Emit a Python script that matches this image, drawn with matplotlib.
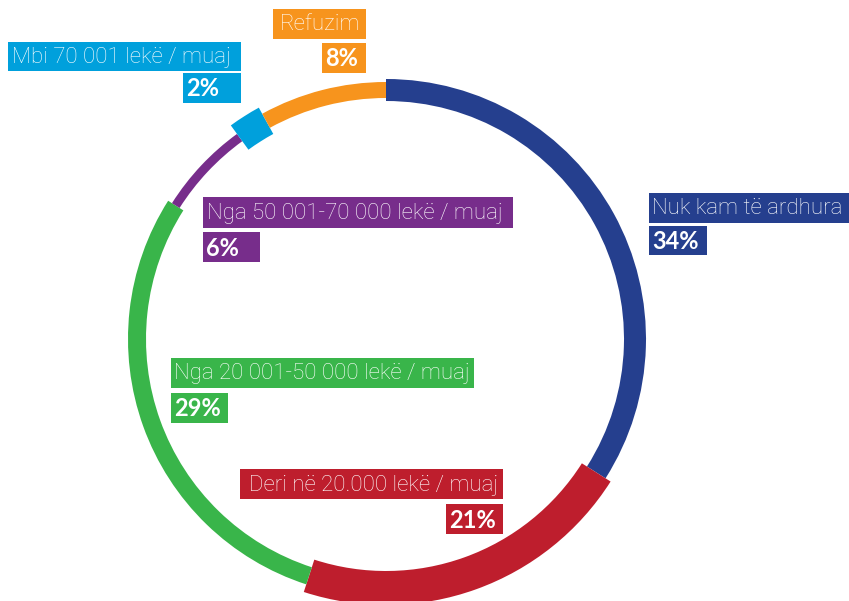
import matplotlib.pyplot as plt
from matplotlib.patches import Rectangle

# income categories, clockwise from 12 o'clock
labels = ["Nuk kam të ardhura", "Deri në 20.000 lekë / muaj",
          "Nga 20 001-50 000 lekë / muaj", "Nga 50 001-70 000 lekë / muaj",
          "Mbi 70 001 lekë / muaj", "Refuzim"]
shares = [34, 21, 29, 6, 2, 8]
colors = ["#253f8e", "#be1e2d", "#39b54a", "#772d8b", "#00a0dc", "#f7941d"]

# ring geometry in pixels (y downwards)
cx, cy, r_mid = 386, 339, 249
ring_width = [22, 34, 18, 9, 30, 16]

# label boxes: (x0, x1, y0, y1) name box, percent box, where the name text sits
label_boxes = [
    ((649, 849, 193, 223), (649, 707, 226, 255), ("left", 652)),
    ((240, 503, 469, 499), (446, 503, 504, 534), ("right", 498)),
    ((171, 474, 358, 388), (171, 228, 393, 423), ("left", 174)),
    ((203, 513, 197, 228), (203, 260, 232, 262), ("left", 207)),
    ((8, 241, 42, 71), (183, 241, 73, 103), ("right", 231)),
    ((273, 366, 9, 39), (322, 366, 43, 73), ("right", 360)),
]

fig = plt.figure(figsize=(8.49, 6.01), dpi=100)
ax = fig.add_axes([0, 0, 1, 1])

wedges, _ = ax.pie(shares, colors=colors, startangle=-90, counterclock=True,
                   center=(cx, cy), radius=r_mid, frame=True)
for w, t in zip(wedges, ring_width):
    w.set_radius(r_mid + t / 2)
    w.set_width(t)
    w.set_linewidth(0)

for name, pct, col, (nb, pb, (ha, tx)) in zip(labels, shares, colors, label_boxes):
    x0, x1, y0, y1 = nb
    ax.add_patch(Rectangle((x0, y0), x1 - x0, y1 - y0, facecolor=col, lw=0))
    ax.text(tx, (y0 + y1) / 2 + 1, name, color="white", ha=ha, va="center",
            fontsize=16, fontweight="light", family="Roboto")

    x0, x1, y0, y1 = pb
    ax.add_patch(Rectangle((x0, y0), x1 - x0, y1 - y0, facecolor=col, lw=0))
    ax.text(x0 + 3, (y0 + y1) / 2 + 1, f"{pct}%", color="white", ha="left",
            va="center", fontsize=17, fontweight="bold", family="Lato")

ax.set_xlim(0, 849)
ax.set_ylim(601, 0)
ax.set_aspect("auto")
ax.axis("off")
fig.savefig("out.png", dpi=100)
